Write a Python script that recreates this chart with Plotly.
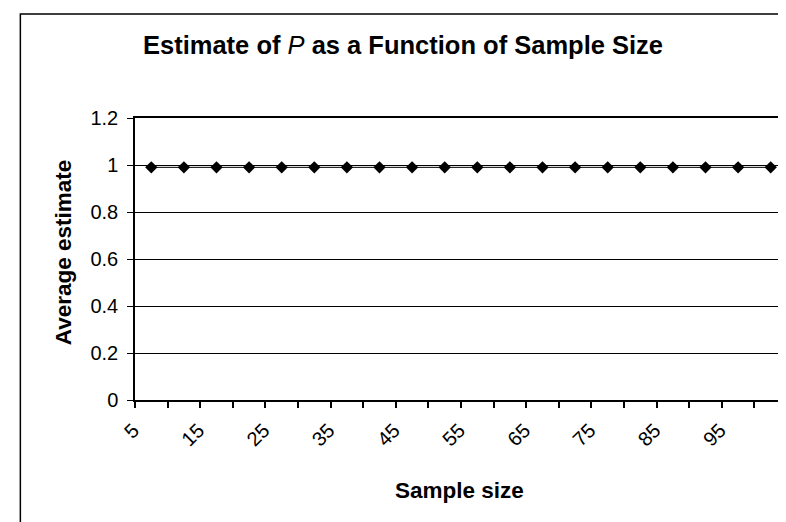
import plotly.graph_objects as go

sample_sizes = [5, 10, 15, 20, 25, 30, 35, 40, 45, 50, 55, 60, 65, 70, 75, 80, 85, 90, 95, 100]
avg_estimate = [0.99, 0.99, 0.99, 0.99, 0.99, 0.99, 0.99, 0.99, 0.99, 0.99,
                0.99, 0.99, 0.99, 0.99, 0.99, 0.99, 0.99, 0.99, 0.99, 0.99]
x_tick_vals = [5, 15, 25, 35, 45, 55, 65, 75, 85, 95]
x_tick_text = ["5", "15", "25", "35", "45", "55", "65", "75", "85", "95"]
x_boundaries = [s - 2.5 for s in sample_sizes] + [102.5]

W, H = 786, 522
L, R, T, B = 127, 5, 110, 130
pw, ph = W - L - R, H - T - B

def px(x):
    return (x - L) / pw

def py(y):
    return (H - B - y) / ph

fig = go.Figure()
fig.add_trace(go.Scatter(
    x=sample_sizes, y=avg_estimate, mode="lines+markers",
    line=dict(color="black", width=1),
    marker=dict(symbol="diamond", size=9.5, color="black"),
    showlegend=False,
))

font_family = "Liberation Sans, Arial, sans-serif"
fig.update_layout(
    width=W, height=H,
    margin=dict(l=L, r=R, t=T, b=B),
    paper_bgcolor="white", plot_bgcolor="white",
    font=dict(family=font_family, color="black", size=20),
    xaxis=dict(
        range=[2.5, 102.5], tickmode="array", tickvals=x_tick_vals, ticktext=x_tick_text,
        tickangle=-45, ticks="", showgrid=False, zeroline=False,
        showline=True, linecolor="black", linewidth=1.5, mirror=True,
        minor=dict(tickmode="array", tickvals=x_boundaries, ticks="outside",
                   ticklen=6, tickcolor="black", tickwidth=1.5, showgrid=False),
        tickfont=dict(size=20),
        ticklabelshift=-18, ticklabelstandoff=9,
    ),
    yaxis=dict(
        range=[0, 1.2], tickmode="linear", tick0=0, dtick=0.2,
        ticks="outside", ticklen=6, tickcolor="black", tickwidth=1,
        showgrid=True, gridcolor="black", gridwidth=1, zeroline=False,
        showline=True, linecolor="black", linewidth=1.5, mirror=True,
        tickfont=dict(size=20), ticklabelstandoff=5,
    ),
    shapes=[dict(type="rect", xref="paper", yref="paper",
                 x0=px(12), x1=px(800), y0=py(540), y1=py(6),
                 line=dict(color="black", width=1.5), fillcolor="rgba(0,0,0,0)", layer="above")],
    annotations=[
        dict(text="<b>Estimate of </b><i>P</i><b> as a Function of Sample Size</b>",
             xref="paper", yref="paper", x=px(396), y=py(37), showarrow=False,
             xanchor="center", yanchor="middle", font=dict(size=25.5)),
        dict(text="<b>Sample size</b>", xref="paper", yref="paper",
             x=px(452), y=py(482), showarrow=False, xanchor="center", yanchor="middle",
             font=dict(size=22.5)),
        dict(text="<b>Average estimate</b>", xref="paper", yref="paper",
             x=px(55), y=py(244), showarrow=False, xanchor="center", yanchor="middle",
             textangle=-90, font=dict(size=22.5)),
    ],
)

fig.write_html("out.html")
